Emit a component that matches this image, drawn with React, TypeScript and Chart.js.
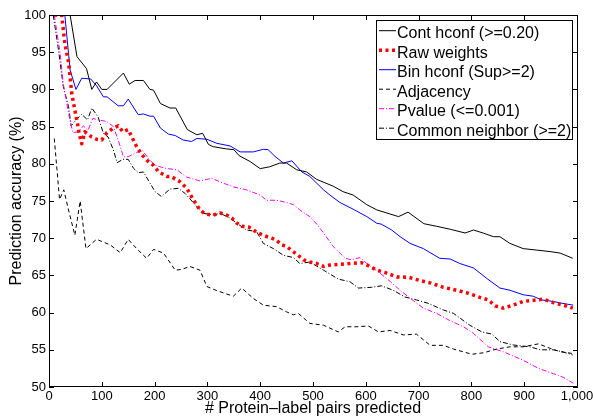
import React, { useEffect, useRef } from "react";
import { Chart, registerables } from "chart.js";
Chart.register(...registerables);

const seriesLabels = [
  "Cont hconf (>=0.20)",
  "Raw weights",
  "Bin hconf (Sup>=2)",
  "Adjacency",
  "Pvalue (<=0.001)",
  "Common neighbor (>=2)",
];

const contX = [10, 40, 53, 71, 81, 90, 100, 110, 141, 152, 163, 179, 191, 198, 211, 229, 240, 262, 280, 291, 302, 311, 336, 350, 360, 381, 400, 418, 437, 450, 469, 488, 507, 538, 557, 576, 602, 621, 662, 680, 710, 734, 760, 788, 804, 822, 842, 854, 873, 898, 924, 949, 968, 992];
const contY = [100, 100, 94.4, 92.8, 90, 91, 90, 90, 92.2, 90.7, 91.2, 91.2, 90, 89.9, 88.1, 87.5, 87.5, 84.6, 83.9, 84.1, 82.6, 82.3, 82.0, 81.9, 81.1, 80.3, 79.35, 79.6, 80.1, 80.1, 79.2, 78.9, 77.9, 77.0, 76.25, 75.8, 74.5, 73.8, 72.9, 73.5, 71.95, 71.6, 71.2, 70.7, 71.1, 70.7, 70.2, 70.2, 69.3, 68.6, 68.4, 68.2, 68.0, 67.3];

const rawX = [10, 24, 30, 37, 43, 49, 54, 57, 62, 68, 81, 90, 100, 110, 122, 131, 140, 150, 157, 166, 176, 185, 198, 207, 223, 231, 248, 261, 273, 286, 296, 311, 324, 337, 346, 356, 365, 378, 396, 409, 422, 431, 441, 450, 460, 470, 482, 494, 507, 520, 532, 551, 570, 592, 605, 621, 636, 659, 681, 703, 722, 747, 772, 794, 816, 832, 845, 860, 879, 898, 924, 936, 955, 974, 992];
const rawY = [100, 100, 96.2, 93.7, 89.5, 87.2, 85.4, 84.1, 82.7, 84.3, 83.6, 83.3, 83.2, 84.2, 84.8, 85.1, 84.3, 84.6, 83.6, 82.3, 81.2, 80.5, 79.8, 78.95, 78.3, 78.3, 77.6, 76.7, 75.2, 73.8, 73.25, 73.1, 73.4, 73.1, 72.7, 72.0, 71.6, 71.5, 70.7, 70.3, 70.0, 69.7, 69.1, 68.9, 68.3, 67.8, 67.1, 66.8, 66.6, 66.2, 66.4, 66.5, 66.6, 66.7, 66.3, 65.7, 65.4, 64.8, 64.75, 64.3, 64.0, 63.4, 63.0, 62.6, 62.05, 61.7, 60.9, 60.6, 61.0, 61.5, 61.7, 61.8, 61.35, 61.0, 60.6];

const binX = [10, 30, 40, 51, 62, 79, 90, 103, 110, 131, 141, 150, 169, 179, 191, 198, 211, 226, 239, 254, 270, 280, 299, 318, 343, 362, 387, 406, 415, 428, 444, 460, 479, 494, 520, 532, 551, 576, 602, 621, 629, 649, 665, 684, 709, 740, 760, 778, 804, 829, 854, 873, 898, 917, 933, 955, 968, 993];
const binY = [100, 100, 92.6, 90, 91.5, 91.4, 90.5, 89.0, 89.0, 87.8, 87.8, 88.7, 86.6, 86.7, 86.4, 86.4, 84.8, 84.0, 83.8, 83.2, 83.0, 83.4, 83.3, 82.75, 82.4, 81.6, 81.6, 81.95, 81.9, 81.0, 80.1, 80.4, 78.9, 78.3, 76.5, 75.8, 74.8, 73.9, 72.9, 72.0, 71.9, 71.1, 70.2, 69.3, 68.6, 67.3, 67.2, 66.6, 66.0, 64.6, 63.3, 63.0, 62.4, 62.2, 61.7, 61.5, 61.3, 61.0];

const adjX = [10, 20, 28, 38, 49, 59, 70, 90, 116, 135, 150, 166, 185, 198, 217, 239, 251, 267, 286, 299, 318, 349, 365, 387, 406, 431, 450, 463, 472, 494, 520, 548, 561, 583, 605, 624, 646, 671, 696, 722, 747, 766, 801, 823, 848, 873, 898, 927, 949, 968, 992];
const adjY = [83.4, 75.2, 76.5, 73.5, 70.4, 75.0, 68.6, 69.85, 69.1, 68.05, 69.85, 68.6, 67.3, 68.5, 68.0, 65.7, 65.8, 66.2, 65.7, 63.5, 62.95, 62.2, 63.3, 61.9, 61.0, 60.8, 60.1, 59.7, 59.9, 58.55, 58.3, 57.4, 58.1, 58.1, 58.2, 57.4, 57.6, 57.0, 57.1, 55.6, 55.6, 55.1, 54.4, 54.6, 55.1, 55.4, 55.4, 55.8, 55.2, 54.75, 54.5];

const pvalX = [10, 21, 27, 37, 45, 56, 65, 74, 83, 93, 109, 122, 131, 141, 150, 163, 176, 191, 201, 220, 242, 261, 286, 308, 330, 349, 374, 400, 412, 431, 450, 463, 475, 494, 507, 520, 538, 561, 573, 589, 602, 627, 646, 665, 681, 709, 734, 760, 785, 804, 832, 860, 898, 927, 955, 974, 993];
const pvalY = [100, 94.9, 90.8, 86.8, 84.2, 84.3, 85.1, 84.5, 86.1, 85.9, 85.7, 85.0, 83.2, 80.95, 80.95, 81.4, 81.85, 80.5, 79.8, 79.4, 79.2, 78.2, 77.7, 78.05, 77.4, 76.9, 76.5, 75.8, 75.1, 75.1, 74.8, 74.5, 73.8, 72.9, 71.9, 70.7, 68.9, 67.3, 67.1, 67.4, 66.6, 65.3, 64.2, 63.0, 62.1, 60.6, 59.9, 58.9, 58.1, 57.2, 55.4, 54.75, 53.6, 52.5, 51.8, 51.3, 50.5];

const cnX = [8, 18, 27, 37, 42, 51, 62, 73, 81, 93, 103, 112, 122, 129, 140, 150, 160, 169, 179, 188, 201, 213, 229, 245, 258, 273, 292, 311, 324, 343, 356, 374, 393, 406, 425, 444, 463, 475, 494, 520, 548, 570, 586, 611, 630, 652, 674, 696, 718, 747, 766, 797, 820, 839, 854, 879, 911, 930, 955, 974, 992];
const cnY = [100, 95.3, 90.4, 87.7, 85.1, 85.9, 86.65, 85.9, 87.5, 86.3, 84.1, 83.6, 81.85, 80.15, 80.6, 80.6, 79.4, 78.8, 78.9, 77.8, 76.25, 75.6, 76.6, 76.7, 76.0, 74.8, 73.35, 73.1, 73.35, 72.7, 72.0, 71.1, 70.9, 69.3, 68.6, 67.7, 67.4, 66.6, 66.8, 65.7, 64.5, 64.15, 63.3, 63.4, 63.6, 63.0, 62.1, 61.7, 61.25, 60.35, 59.9, 58.3, 57.4, 57.1, 56.1, 55.65, 55.4, 55.0, 55.0, 54.7, 54.3];

const xTickValues = [0, 100, 200, 300, 400, 500, 600, 700, 800, 900, 1000];
const yTickValues = [50, 55, 60, 65, 70, 75, 80, 85, 90, 95, 100];

const xTitle = "# Protein\u2013label pairs predicted";
const yTitle = "Prediction accuracy (%)";

const FONT = "'Liberation Sans', Arial, Helvetica, sans-serif";

function pts(xs: number[], ys: number[]) {
  return xs.map((x, i) => ({ x, y: ys[i] }));
}

const decorPlugin = {
  id: "decor",
  afterDatasetsDraw(chart: any) {
    const { ctx, chartArea } = chart;
    const { left, right, top, bottom } = chartArea;
    const xs = chart.scales.x;
    const ys = chart.scales.y;
    ctx.save();
    ctx.strokeStyle = "#000";
    ctx.lineWidth = 1;
    ctx.setLineDash([]);
    ctx.beginPath();
    ctx.rect(left + 0.5, top + 0.5, right - left, bottom - top - 1);
    ctx.stroke();
    const tl = 5;
    ctx.beginPath();
    xTickValues.forEach((v) => {
      const px = Math.round(xs.getPixelForValue(v)) + 0.5;
      ctx.moveTo(px, bottom);
      ctx.lineTo(px, bottom - tl);
      ctx.moveTo(px, top);
      ctx.lineTo(px, top + tl);
    });
    yTickValues.forEach((v) => {
      const py = Math.round(ys.getPixelForValue(v)) + 0.5;
      ctx.moveTo(left, py);
      ctx.lineTo(left + tl, py);
      ctx.moveTo(right + 1, py);
      ctx.lineTo(right + 1 - tl, py);
    });
    ctx.stroke();

    const lx0 = 376.5, ly0 = 20.5, lx1 = 572.5, ly1 = 139.5;
    ctx.fillStyle = "#fff";
    ctx.fillRect(lx0, ly0, lx1 - lx0, ly1 - ly0);
    ctx.strokeStyle = "#000";
    ctx.lineWidth = 1;
    ctx.strokeRect(lx0, ly0, lx1 - lx0, ly1 - ly0);
    ctx.font = `16px ${FONT}`;
    ctx.textAlign = "left";
    ctx.textBaseline = "alphabetic";
    chart.data.datasets.forEach((ds: any, i: number) => {
      const y = 30.7 + i * 19.5;
      ctx.save();
      ctx.strokeStyle = ds.borderColor;
      ctx.lineWidth = ds.borderWidth;
      ctx.setLineDash(ds.borderDash || []);
      ctx.beginPath();
      ctx.moveTo(379, y);
      ctx.lineTo(396, y);
      ctx.stroke();
      ctx.restore();
      ctx.fillStyle = "#000";
      ctx.fillText(ds.label, 397, y + 7.6);
    });

    ctx.fillStyle = "#000";
    ctx.font = `16px ${FONT}`;
    ctx.textAlign = "center";
    ctx.textBaseline = "alphabetic";
    ctx.fillText(xTitle, (left + right) / 2, 413);
    ctx.save();
    ctx.translate(21, (top + bottom) / 2);
    ctx.rotate(-Math.PI / 2);
    ctx.fillText(yTitle, 0, 0);
    ctx.restore();
    ctx.restore();
  },
};

export default function App() {
  const ref = useRef<HTMLCanvasElement | null>(null);
  useEffect(() => {
    document.body.style.margin = "0";
    const canvas = ref.current;
    if (!canvas) return;
    const chart = new Chart(canvas, {
      type: "line",
      data: {
        datasets: [
          { label: seriesLabels[0], data: pts(contX, contY), borderColor: "#000000", borderWidth: 1 },
          { label: seriesLabels[1], data: pts(rawX, rawY), borderColor: "#ff0000", borderWidth: 3.5, borderDash: [3, 3.5] },
          { label: seriesLabels[2], data: pts(binX, binY), borderColor: "#0000ff", borderWidth: 1 },
          { label: seriesLabels[3], data: pts(adjX, adjY), borderColor: "#000000", borderWidth: 1, borderDash: [4, 3] },
          { label: seriesLabels[4], data: pts(pvalX, pvalY), borderColor: "#ff00ff", borderWidth: 1, borderDash: [5, 2, 1, 2] },
          { label: seriesLabels[5], data: pts(cnX, cnY), borderColor: "#000000", borderWidth: 1, borderDash: [5, 2, 1, 2] },
        ].map((d) => ({ ...d, pointRadius: 0, tension: 0, fill: false, borderJoinStyle: "round", backgroundColor: d.borderColor })) as any,
      },
      options: {
        animation: false,
        responsive: false,
        maintainAspectRatio: false,
        layout: { padding: { top: 15, right: 16, left: 0, bottom: 0 } },
        plugins: { legend: { display: false }, tooltip: { enabled: false } },
        scales: {
          x: {
            type: "linear",
            min: 0,
            max: 1000,
            grid: { display: false, drawTicks: false },
            border: { display: false },
            ticks: {
              stepSize: 100,
              autoSkip: false,
              maxRotation: 0,
              padding: 2,
              color: "#000",
              font: { family: FONT, size: 13 },
            },
            afterFit: (s: any) => {
              s.height = 29;
              s.paddingLeft = 0;
              s.paddingRight = 0;
            },
          },
          y: {
            type: "linear",
            min: 50,
            max: 100,
            grid: { display: false, drawTicks: false },
            border: { display: false },
            ticks: {
              stepSize: 5,
              autoSkip: false,
              padding: 3,
              color: "#000",
              font: { family: FONT, size: 13 },
            },
            afterFit: (s: any) => {
              s.width = 49;
              s.paddingTop = 0;
              s.paddingBottom = 0;
            },
          },
        },
      },
      plugins: [decorPlugin],
    });
    return () => chart.destroy();
  }, []);
  return (
    <div style={{ width: 593, height: 416 }}>
      <canvas ref={ref} width={593} height={416} style={{ display: "block", width: 593, height: 416 }} />
    </div>
  );
}
